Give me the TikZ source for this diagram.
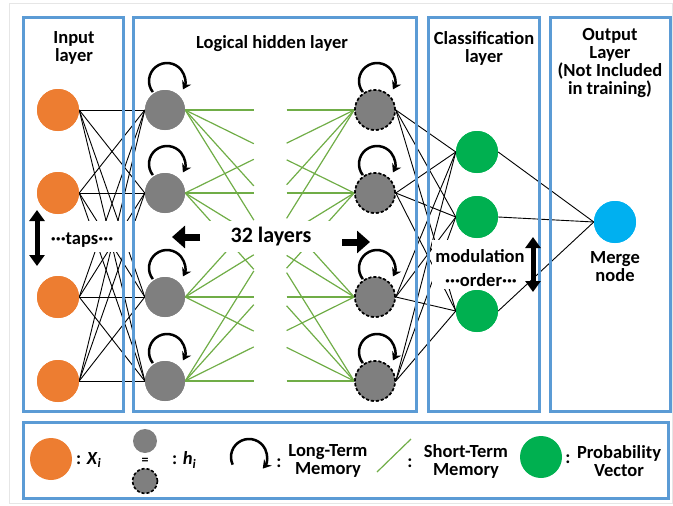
\documentclass[tikz,border=0pt]{standalone}
\usepackage{fontspec}
\setmainfont{Carlito}
\usetikzlibrary{calc,arrows.meta}
\definecolor{boxblue}{HTML}{5B9BD5}
\definecolor{inorange}{HTML}{ED7D31}
\definecolor{hidgray}{HTML}{7F7F7F}
\definecolor{probgreen}{HTML}{00B050}
\definecolor{mergeblue}{HTML}{00B0F0}
\definecolor{stmgreen}{HTML}{70AD47}
\definecolor{framegray}{HTML}{E6E6E6}
\begin{document}
\begin{tikzpicture}[x=1pt,y=-1pt,
  lbl/.style={font=\fontsize{18.5}{18}\selectfont\bfseries, align=center, inner sep=0pt},
  biglbl/.style={font=\fontsize{22}{22}\selectfont\bfseries, inner sep=0pt},
  layerbox/.style={draw=boxblue, line width=3pt},
  inode/.style={circle, fill=inorange, minimum size=42pt, inner sep=0pt},
  hnode/.style={circle, fill=hidgray, minimum size=40pt, inner sep=0pt},
  dnode/.style={hnode, draw=black, line width=1.6pt, dash pattern=on 3pt off 2pt},
  pnode/.style={circle, fill=probgreen, minimum size=42pt, inner sep=0pt},
  mnode/.style={circle, fill=mergeblue, minimum size=42pt, inner sep=0pt},
  wire/.style={black, line width=0.9pt},
  stm/.style={stmgreen, line width=1.2pt},
  ltm/.style={line width=2.5pt, -{Stealth[length=8pt,width=10pt]}},
  bigarrow/.style={line width=7pt, -{Triangle[length=13pt,width=22pt]}},
  dblarrow/.style={line width=5pt, {Triangle[length=11pt,width=15pt]}-{Triangle[length=11pt,width=15pt]}},
]
\useasboundingbox (0,0) rectangle (673,506);
\draw[framegray, line width=1pt] (9,3) rectangle (672,503);

% nodes
\foreach \k/\y in {1/110,2/193,3/297,4/381} {
  \node[inode] (I\k) at (58,\y) {};
  \node[hnode] (L\k) at (165,\y) {};
  \node[dnode] (R\k) at (375,\y) {};
}
\node[pnode] (G1) at (477,152) {};
\node[pnode] (G2) at (477,217) {};
\node[pnode] (G3) at (477,311) {};
\node[mnode] (M) at (615,222) {};

% connections
\foreach \i in {1,...,4} {
  \foreach \j in {1,...,4} {
    \draw[wire] (I\i.east) -- (L\j.west);
    \draw[stm] (L\i.east) -- ($(L\i.east)!0.406!(R\j.west)$);
    \draw[stm] ($(L\i.east)!0.6!(R\j.west)$) -- (R\j.west);
  }
  \foreach \j in {1,2,3} {
    \draw[wire] (R\i.east) -- (G\j.west);
  }
}
\foreach \j in {1,2,3} {
  \draw[wire] (G\j.east) -- (M.west);
}

% masks behind labels
\fill[white] (62,221) rectangle (395,252);
\fill[white] (432,240) rectangle (515,289);

% redraw nodes on top of the wires
\foreach \k/\y in {1/110,2/193,3/297,4/381} {
  \node[inode] at (58,\y) {};
  \node[hnode] at (165,\y) {};
  \node[dnode] at (375,\y) {};
}
\node[pnode] at (477,152) {};
\node[pnode] at (477,217) {};
\node[pnode] at (477,311) {};
\node[mnode] at (615,222) {};

% long-term memory loops
\foreach \n in {L1,L2,L3,L4,R1,R2,R3,R4} {
  \coordinate (c\n) at ($(\n)+(2,-29)$);
  \draw[ltm] ([shift={(218:18pt)}]c\n) arc[start angle=218, end angle=-28, radius=18pt];
}

% layer boxes
\draw[layerbox] (23,17) rectangle (123,411);
\draw[layerbox] (133,17) rectangle (416,411);
\draw[layerbox] (428,17) rectangle (539,411);
\draw[layerbox] (550,17) rectangle (670,411);
\draw[layerbox] (23,422) rectangle (668,498);

% titles
\node[lbl, anchor=north] (tIn) at (74,31) {Input\\layer};
\node[lbl, anchor=north] (tHid) at (272,35) {Logical hidden layer};
\node[lbl, anchor=north] (tCls) at (484,31) {Classification\\layer};
\node[lbl, anchor=north] (tOut) at (610,28) {Output\\Layer\\(Not Included\\in training)};

% inner labels and arrows
\node[biglbl] (l32) at (271,237) {32 layers};
\coordinate (la1) at (200,237);
\coordinate (la2) at (172,237);
\coordinate (ra1) at (342,242);
\coordinate (ra2) at (370,242);
\draw[bigarrow] (la1) -- (la2);
\draw[bigarrow] (ra1) -- (ra2);
\node[lbl] (taps) at (82,240) {···taps···};
\coordinate (ta1) at (37,210);
\coordinate (ta2) at (37,266);
\draw[dblarrow] (ta1) -- (ta2);
\node[lbl] (modu) at (480,256) {modulation};
\node[lbl] (ord) at (481,280) {···order···};
\coordinate (ma1) at (533,237);
\coordinate (ma2) at (533,292);
\draw[dblarrow] (ma1) -- (ma2);
\node[lbl] (mtxt) at (615,267) {Merge\\node};

% legend
\node[inode] (kx) at (51,459) {};
\node[lbl, anchor=west] (kxt) at (76,460) {: \textit{X}\textsubscript{\textit{i}}};
\node[hnode, minimum size=24pt] (kh1) at (145,441) {};
\node[font=\fontsize{14}{14}\selectfont\bfseries, inner sep=0pt] (keq) at (145,461) {=};
\node[dnode, minimum size=25pt] (kh2) at (145,481) {};
\node[lbl, anchor=west] (kht) at (172,460) {: \textit{h}\textsubscript{\textit{i}}};
\coordinate (kl) at (249,457);
\draw[ltm] ([shift={(205:18pt)}]kl) arc[start angle=205, end angle=-40, radius=18pt];
\node[lbl] (klc) at (279,463) {:};
\node[lbl] (klt) at (328,461) {Long-Term\\Memory};
\coordinate (ks1) at (377,472);
\coordinate (ks2) at (411,439);
\draw[stm] (ks1) -- (ks2);
\node[lbl] (ksc) at (410,463) {:};
\node[lbl] (kst) at (466,461) {Short-Term\\Memory};
\node[pnode] (kp) at (541,457) {};
\node[lbl] (kpc) at (568,459) {:};
\node[lbl] (kpt) at (619,461) {Probability\\Vector};
\end{tikzpicture}
\end{document}
